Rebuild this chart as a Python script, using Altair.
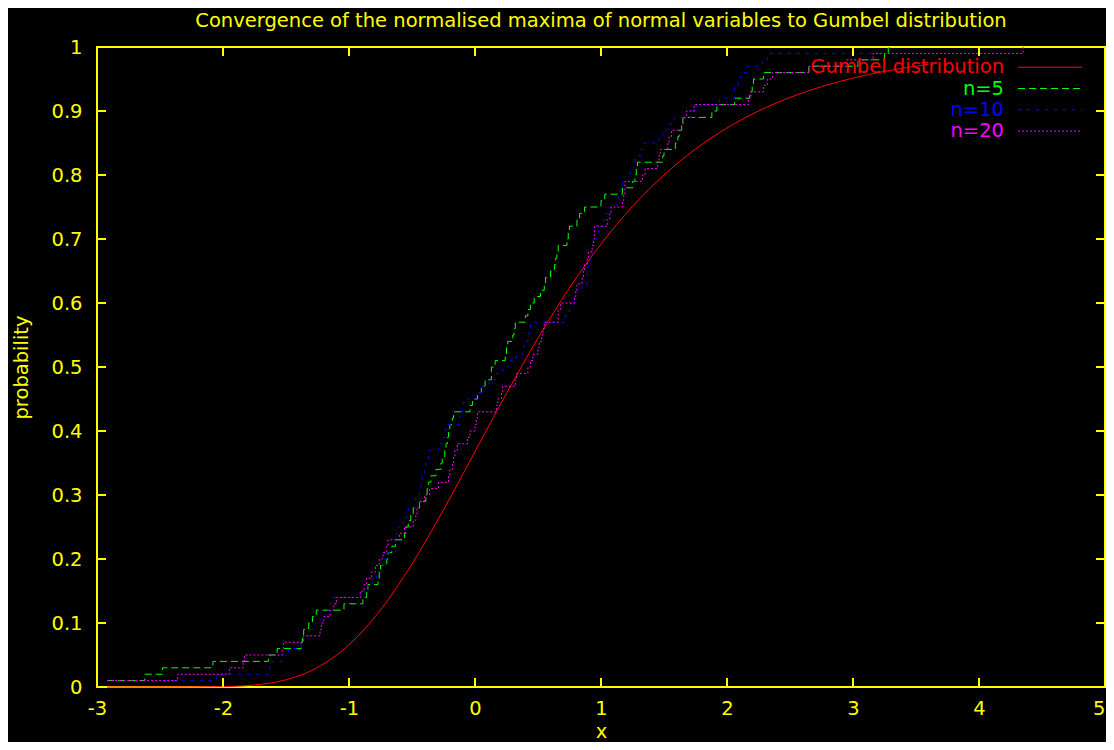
import altair as alt
import pandas as pd

# ---------------- data ----------------
probability = [0.01, 0.02, 0.03, 0.04, 0.05, 0.06, 0.07, 0.08, 0.09, 0.10,
               0.11, 0.12, 0.13, 0.14, 0.15, 0.16, 0.17, 0.18, 0.19, 0.20,
               0.21, 0.22, 0.23, 0.24, 0.25, 0.26, 0.27, 0.28, 0.29, 0.30,
               0.31, 0.32, 0.33, 0.34, 0.35, 0.36, 0.37, 0.38, 0.39, 0.40,
               0.41, 0.42, 0.43, 0.44, 0.45, 0.46, 0.47, 0.48, 0.49, 0.50,
               0.51, 0.52, 0.53, 0.54, 0.55, 0.56, 0.57, 0.58, 0.59, 0.60,
               0.61, 0.62, 0.63, 0.64, 0.65, 0.66, 0.67, 0.68, 0.69, 0.70,
               0.71, 0.72, 0.73, 0.74, 0.75, 0.76, 0.77, 0.78, 0.79, 0.80,
               0.81, 0.82, 0.83, 0.84, 0.85, 0.86, 0.87, 0.88, 0.89, 0.90,
               0.91, 0.92, 0.93, 0.94, 0.95, 0.96, 0.97, 0.98, 0.99, 1.00]

x_n5 = [-2.92, -2.62, -2.48, -2.08, -1.64, -1.57, -1.38, -1.37, -1.36, -1.32,
        -1.29, -1.26, -1.04, -0.89, -0.86, -0.85, -0.77, -0.76, -0.75, -0.70,
        -0.69, -0.66, -0.63, -0.56, -0.55, -0.53, -0.51, -0.49, -0.44, -0.39,
        -0.38, -0.37, -0.35, -0.31, -0.27, -0.26, -0.24, -0.23, -0.22, -0.21,
        -0.20, -0.18, -0.17, -0.04, -0.02, 0.02, 0.05, 0.08, 0.13, 0.13,
        0.16, 0.24, 0.25, 0.26, 0.30, 0.31, 0.32, 0.40, 0.42, 0.44,
        0.47, 0.52, 0.55, 0.56, 0.60, 0.63, 0.64, 0.65, 0.66, 0.73,
        0.74, 0.75, 0.81, 0.83, 0.87, 1.00, 1.03, 1.17, 1.25, 1.27,
        1.28, 1.29, 1.49, 1.50, 1.59, 1.61, 1.62, 1.64, 1.65, 1.88,
        1.92, 2.06, 2.18, 2.20, 2.21, 2.29, 2.65, 3.04, 3.25, 3.28]

x_n10 = [-2.47, -2.05, -1.63, -1.62, -1.53, -1.48, -1.38, -1.36, -1.31, -1.27,
         -1.23, -1.19, -1.15, -1.14, -0.88, -0.85, -0.81, -0.78, -0.74, -0.72,
         -0.69, -0.63, -0.63, -0.62, -0.61, -0.57, -0.54, -0.53, -0.47, -0.47,
         -0.44, -0.43, -0.42, -0.40, -0.39, -0.37, -0.36, -0.29, -0.25, -0.24,
         -0.23, -0.13, -0.12, -0.10, -0.09, 0.01, 0.06, 0.11, 0.17, 0.22,
         0.28, 0.33, 0.38, 0.39, 0.42, 0.43, 0.44, 0.71, 0.75, 0.76,
         0.79, 0.80, 0.85, 0.89, 0.89, 0.90, 0.92, 0.93, 0.93, 0.96,
         0.97, 0.98, 1.02, 1.04, 1.07, 1.12, 1.14, 1.15, 1.17, 1.23,
         1.23, 1.26, 1.27, 1.32, 1.34, 1.46, 1.49, 1.53, 1.58, 1.72,
         1.76, 1.94, 2.06, 2.06, 2.09, 2.11, 2.16, 2.28, 2.32, 3.29]

x_n20 = [-2.92, -2.36, -1.95, -1.84, -1.83, -1.53, -1.52, -1.36, -1.23, -1.22,
         -1.20, -1.15, -1.12, -1.10, -0.91, -0.88, -0.86, -0.82, -0.79, -0.76,
         -0.73, -0.70, -0.69, -0.60, -0.56, -0.49, -0.47, -0.46, -0.44, -0.40,
         -0.36, -0.29, -0.21, -0.20, -0.18, -0.17, -0.16, -0.14, -0.06, -0.04,
         0.00, 0.01, 0.02, 0.17, 0.18, 0.21, 0.22, 0.32, 0.33, 0.42,
         0.44, 0.46, 0.50, 0.51, 0.53, 0.54, 0.55, 0.66, 0.66, 0.68,
         0.79, 0.80, 0.81, 0.85, 0.86, 0.87, 0.89, 0.90, 0.93, 0.94,
         0.95, 0.95, 1.05, 1.07, 1.08, 1.17, 1.18, 1.19, 1.19, 1.33,
         1.35, 1.45, 1.46, 1.47, 1.53, 1.54, 1.56, 1.64, 1.65, 1.68,
         1.74, 2.17, 2.19, 2.29, 2.32, 2.36, 2.65, 2.95, 3.16, 4.35]

gumbel_x = [-2.92, -2.5, -2.25, -2.0, -1.75, -1.5, -1.25, -1.0, -0.75, -0.5,
            -0.25, 0.0, 0.25, 0.5, 0.75, 1.0, 1.25, 1.5, 1.75, 2.0,
            2.25, 2.5, 2.75, 3.0, 3.25, 3.6]
gumbel_p = [0.0, 0.0, 0.0001, 0.0006, 0.0032, 0.0113, 0.0305, 0.066, 0.1204, 0.1923,
            0.2769, 0.3679, 0.4589, 0.5452, 0.6235, 0.6922, 0.7509, 0.8, 0.8405, 0.8734,
            0.9, 0.9212, 0.9381, 0.9514, 0.962, 0.973]

series_labels = ["Gumbel distribution", "n=5", "n=10", "n=20"]
series_colors = ["#ff0000", "#00ff00", "#0000ff", "#ff00ff"]
series_dashes = [[1, 0], [7, 4], [3, 6], [2, 2]]

x_ticks = [-3, -2, -1, 0, 1, 2, 3, 4, 5]
y_ticks = [0, 0.1, 0.2, 0.3, 0.4, 0.5, 0.6, 0.7, 0.8, 0.9, 1]

title_text = "Convergence of the normalised maxima of normal variables to Gumbel distribution"

# ---------------- style ----------------
YEL = "#ffff00"
FONT = "DejaVu Sans"
FS = 19.5
W, H = 1008, 640

xscale = alt.Scale(domain=[-3, 5], nice=False, zero=False)
yscale = alt.Scale(domain=[0, 1], nice=False, zero=False)

gumbel_df = pd.DataFrame({"x": gumbel_x, "p": gumbel_p})
step_dfs = [pd.DataFrame({"x": xs, "p": probability}) for xs in (x_n5, x_n10, x_n20)]

x_axis = alt.Axis(values=x_ticks, labelExpr="'' + datum.value", domain=False, ticks=False,
                  grid=False, labelColor=YEL, labelFont=FONT, labelFontSize=FS,
                  labelPadding=12, labelFlush=False, labelOverlap=False,
                  labelAlign=alt.condition("datum.value == 5", alt.value("right"),
                                           alt.value("center")),
                  title="x", titleColor=YEL, titleFont=FONT, titleFontSize=FS,
                  titleFontWeight="normal", titleBaseline="alphabetic", titleY=50,
                  titleX=W / 2)
y_axis = alt.Axis(values=y_ticks, labelExpr="'' + datum.value", domain=False, ticks=False,
                  grid=False, labelColor=YEL, labelFont=FONT, labelFontSize=FS,
                  labelPadding=15, labelFlush=False, labelOverlap=False,
                  title="probability", titleColor=YEL, titleFont=FONT, titleFontSize=FS,
                  titleFontWeight="normal", titleAngle=-90, titleBaseline="alphabetic",
                  titleX=-70, titleY=H / 2, titleAlign="center")


def X(field):
    return alt.X(field, scale=xscale, axis=x_axis)


def Y(field):
    return alt.Y(field, scale=yscale, axis=y_axis)


gumbel = alt.Chart(gumbel_df).mark_line(
    color=series_colors[0], strokeWidth=1, interpolate="monotone"
).encode(x=X("x:Q"), y=Y("p:Q"))

steps = []
for df, col, dash in zip(step_dfs, series_colors[1:], series_dashes[1:]):
    steps.append(
        alt.Chart(df).mark_line(color=col, strokeWidth=1, strokeDash=dash,
                                interpolate="step-after")
        .encode(x=X("x:Q"), y=Y("p:Q"))
    )

# inward ticks on all four sides (gnuplot style)
xt = pd.DataFrame({"t": x_ticks})
yt = pd.DataFrame({"t": y_ticks})
TL = 9
tick_style = dict(color=YEL, strokeWidth=2)
xt_bottom = alt.Chart(xt).mark_rule(**tick_style).encode(
    x=X("t:Q"), y=alt.value(H), y2=alt.value(H - TL))
xt_top = alt.Chart(xt).mark_rule(**tick_style).encode(
    x=X("t:Q"), y=alt.value(0), y2=alt.value(TL))
yt_left = alt.Chart(yt).mark_rule(**tick_style).encode(
    y=Y("t:Q"), x=alt.value(0), x2=alt.value(TL))
yt_right = alt.Chart(yt).mark_rule(**tick_style).encode(
    y=Y("t:Q"), x=alt.value(W), x2=alt.value(W - TL))

# key (top right, text then sample line, as in gnuplot)
legend_layers = []
for i, (lab, col, dash) in enumerate(zip(series_labels, series_colors, series_dashes)):
    ly = 20.2 + 21.3 * i
    one = pd.DataFrame({"label": [lab]})
    legend_layers.append(
        alt.Chart(one).mark_text(align="right", baseline="middle", font=FONT,
                                 fontSize=FS, color=col)
        .encode(text="label:N", x=alt.value(907), y=alt.value(ly))
    )
    legend_layers.append(
        alt.Chart(one).mark_rule(color=col, strokeWidth=1, strokeDash=dash)
        .encode(x=alt.value(921), x2=alt.value(985), y=alt.value(ly))
    )

# chart title, centred above the plot
title_layer = alt.Chart(pd.DataFrame({"t": [title_text]})).mark_text(
    align="center", baseline="alphabetic", font=FONT, fontSize=FS, color=YEL
).encode(text="t:N", x=alt.value(W / 2), y=alt.value(-20))

chart = alt.layer(
    gumbel, *steps, xt_bottom, xt_top, yt_left, yt_right, *legend_layers, title_layer
).properties(
    width=W, height=H,
    padding={"left": 89, "top": 39, "right": 1, "bottom": 55},
    autosize=alt.AutoSizeParams(type="none"),
).configure(
    background="#000000"
).configure_view(
    stroke=YEL, strokeWidth=2
)

chart.save("out.html", embed_options={"renderer": "svg", "actions": False})
